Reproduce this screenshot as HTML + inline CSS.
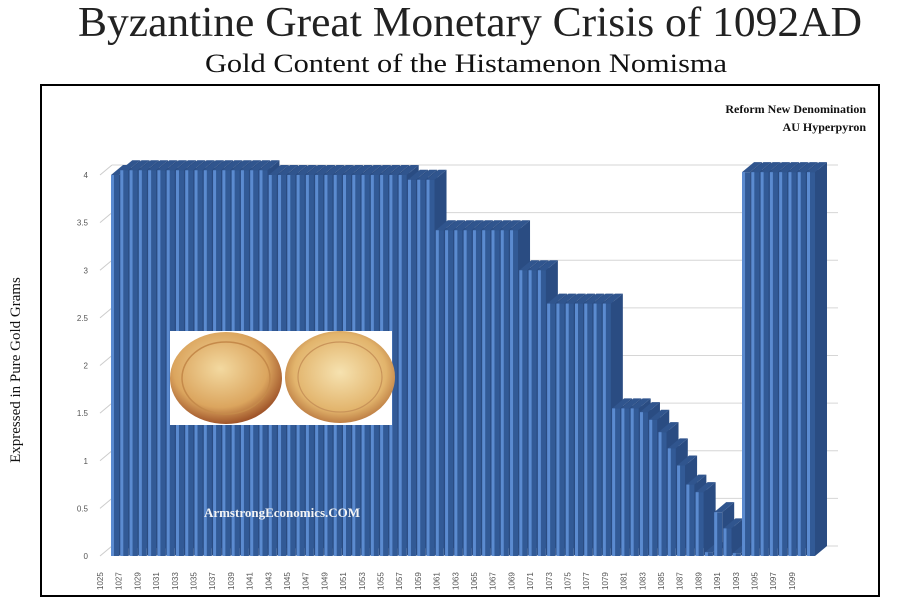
<!DOCTYPE html>
<html><head><meta charset="utf-8"><style>
html,body{margin:0;padding:0;background:#fff;width:900px;height:604px;overflow:hidden}
svg{display:block}
</style></head><body>
<svg id="s" width="900" height="604" xmlns="http://www.w3.org/2000/svg">
<defs>
<radialGradient id="g1" cx="45%" cy="40%" r="60%"><stop offset="0" stop-color="#f3d9a0"/><stop offset="0.7" stop-color="#dba55e"/><stop offset="1" stop-color="#a0552a"/></radialGradient>
<radialGradient id="g2" cx="50%" cy="45%" r="60%"><stop offset="0" stop-color="#f6e2b0"/><stop offset="0.7" stop-color="#e2b46c"/><stop offset="1" stop-color="#b06a35"/></radialGradient>
</defs>
<text x="78" y="36" textLength="784" lengthAdjust="spacingAndGlyphs" font-family="Liberation Serif, serif" font-size="42" fill="#222">Byzantine Great Monetary Crisis of 1092AD</text>
<text x="205" y="72" textLength="522" lengthAdjust="spacingAndGlyphs" font-family="Liberation Serif, serif" font-size="26" fill="#111">Gold Content of the Histamenon Nomisma</text>
<rect x="41" y="85" width="838" height="511" fill="#fff" stroke="#000" stroke-width="2"/>
<text transform="translate(20,370) rotate(-90)" text-anchor="middle" font-family="Liberation Serif, serif" font-size="15" fill="#111">Expressed in Pure Gold Grams</text>
<text x="866" y="113" text-anchor="end" font-family="Liberation Serif, serif" font-weight="bold" font-size="12" fill="#111">Reform  New Denomination</text>
<text x="866" y="131" text-anchor="end" font-family="Liberation Serif, serif" font-weight="bold" font-size="12" fill="#111">AU Hyperpyron</text>
<g id="grid"></g>
<g id="bars"></g>
<rect x="170" y="331" width="222" height="94" fill="#fff"/>
<ellipse cx="226" cy="378" rx="56" ry="46" fill="url(#g1)"/>
<ellipse cx="226" cy="378" rx="44" ry="36" fill="none" stroke="#c58a4a" stroke-width="1.5"/>
<ellipse cx="340" cy="377" rx="55" ry="46" fill="url(#g2)"/>
<ellipse cx="340" cy="377" rx="42" ry="35" fill="none" stroke="#c9945a" stroke-width="1.2"/>
<text x="282" y="517" text-anchor="middle" font-family="Liberation Serif, serif" font-weight="bold" font-size="13" fill="#f4f4f4">ArmstrongEconomics.COM</text>
</svg>
<script>
var NS="http://www.w3.org/2000/svg";
function el(t,a,p){var e=document.createElementNS(NS,t);for(var k in a)e.setAttribute(k,a[k]);if(p!==undefined)e.textContent=p;return e;}
var grid=document.getElementById('grid'),bars=document.getElementById('bars');
var y0=556,u=95.25,dx=12,dy=10;
var labs=['0','0.5','1','1.5','2','2.5','3','3.5','4'];
for(var i=0;i<9;i++){var y=y0-i*47.625;
 grid.appendChild(el('line',{x1:100,y1:y,x2:100+dx,y2:y-dy,stroke:'#ccc','stroke-width':1}));
 grid.appendChild(el('line',{x1:100+dx,y1:y-dy,x2:838,y2:y-dy,stroke:'#d6d6d6','stroke-width':1}));
 grid.appendChild(el('text',{x:88,y:y+3,'text-anchor':'end','font-family':'Liberation Sans, sans-serif','font-size':'8',fill:'#555'},labs[i]));}
var v=[];
for(i=0;i<76;i++){var a;
 if(i==0)a=4.0;else if(i<=16)a=4.05;else if(i<=31)a=4.0;else if(i<=34)a=3.95;
 else if(i<=43)a=3.42;else if(i<=46)a=3.0;else if(i<=53)a=2.65;
 else if(i<=56)a=1.55;else a=[1.51,1.43,1.30,1.13,0.95,0.75,0.67,0.04,0.46,0.29,0.03][i-57];
 if(i>=68)a=4.03; v.push(a);}
var p=9.28,w=8;
for(i=0;i<76;i++){var x=111+i*p,t=y0-v[i]*u;
 bars.appendChild(el('polygon',{points:(x+w)+','+y0+' '+(x+w+dx)+','+(y0-dy)+' '+(x+w+dx)+','+(t-dy)+' '+(x+w)+','+t,fill:'#2a4c82'}));
 bars.appendChild(el('polygon',{points:x+','+t+' '+(x+dx)+','+(t-dy)+' '+(x+w+dx)+','+(t-dy)+' '+(x+w)+','+t,fill:'#30558e'}));
 bars.appendChild(el('rect',{x:x,y:t,width:w,height:y0-t,fill:'#325a96'}));
 bars.appendChild(el('rect',{x:x,y:t,width:3,height:y0-t,fill:'#5b8bd0'}));}
for(i=0;i<75;i+=2){var lx=100+i*9.35;
 var tx=el('text',{transform:'translate('+(lx+3)+',590) rotate(-90)','font-family':'Liberation Sans, sans-serif','font-size':'8',fill:'#555'},String(1025+i));
 bars.appendChild(tx);}
</script>
</body></html>
